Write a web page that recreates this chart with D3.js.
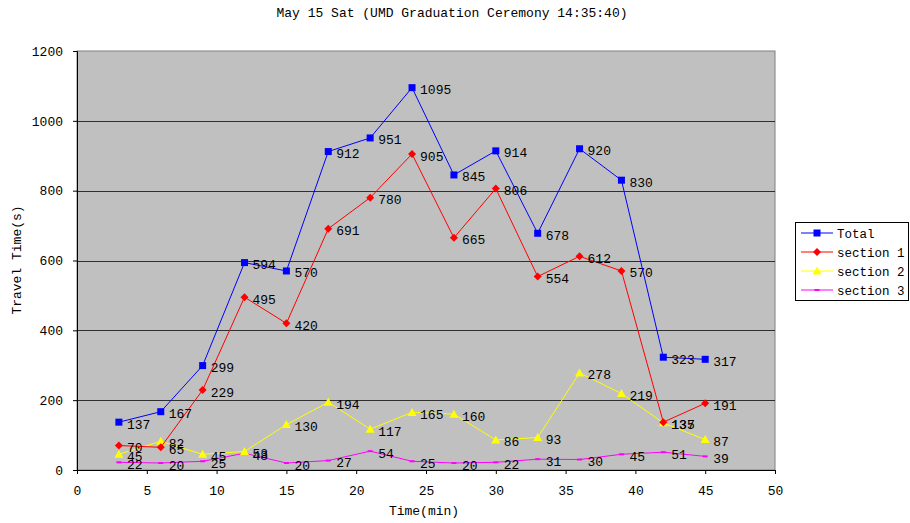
<!DOCTYPE html>
<html>
<head>
<meta charset="utf-8">
<script src="https://cdn.jsdelivr.net/npm/d3@7"></script>
<style>
body { margin: 0; background: #fff; }
text { font-family: "Liberation Mono", "DejaVu Sans Mono", monospace; }
</style>
</head>
<body>
<svg id="chart" width="910" height="523"></svg>
<script>
var minutes = [3, 6, 9, 12, 15, 18, 21, 24, 27, 30, 33, 36, 39, 42, 45];
var total = [137, 167, 299, 594, 570, 912, 951, 1095, 845, 914, 678, 920, 830, 323, 317];
var section1 = [70, 65, 229, 495, 420, 691, 780, 905, 665, 806, 554, 612, 570, 137, 191];
var section2 = [45, 82, 45, 53, 130, 194, 117, 165, 160, 86, 93, 278, 219, 135, 87];
var section3 = [22, 20, 25, 48, 20, 27, 54, 25, 20, 22, 31, 30, 45, 51, 39];
var xTicks = [0, 5, 10, 15, 20, 25, 30, 35, 40, 45, 50];
var yTicks = [0, 200, 400, 600, 800, 1000, 1200];

var series = [
	{ name: 'Total', values: total, color: '#0000ff', marker: 'square' },
	{ name: 'section 1', values: section1, color: '#ff0000', marker: 'diamond' },
	{ name: 'section 2', values: section2, color: '#ffff00', marker: 'triangle' },
	{ name: 'section 3', values: section3, color: '#ff00ff', marker: 'dash' }
];

var svg = d3.select("#chart");
var plotL = 77, plotR = 775, plotT = 51, plotB = 470;

var x = d3.scaleLinear().domain([0, 50]).range([plotL, plotR]);
var y = d3.scaleLinear().domain([0, 1200]).range([plotB, plotT]);

// plot background
svg.append("rect")
	.attr("x", plotL).attr("y", plotT)
	.attr("width", plotR - plotL).attr("height", plotB - plotT)
	.attr("fill", "#c0c0c0").attr("stroke", "#808080").attr("stroke-width", 1);

// gridlines
svg.append("g").selectAll("line").data(yTicks.slice(1, -1)).enter().append("line")
	.attr("x1", plotL).attr("x2", plotR)
	.attr("y1", function(d){ return Math.round(y(d)) + 0.5 })
	.attr("y2", function(d){ return Math.round(y(d)) + 0.5 })
	.attr("stroke", "#000").attr("stroke-width", 1).attr("opacity", 0.75);

// axes
var yAxis = svg.append("g").attr("transform", "translate(" + plotL + ",0)")
	.call(d3.axisLeft(y).tickValues(yTicks).tickFormat(d3.format("d")).tickSize(4).tickPadding(10));
var xAxis = svg.append("g").attr("transform", "translate(0," + plotB + ")")
	.call(d3.axisBottom(x).tickValues(xTicks).tickSize(4).tickPadding(12));
[xAxis, yAxis].forEach(function(a){
	a.select(".domain").attr("stroke", "#000");
	a.selectAll(".tick line").attr("stroke", "#000");
	a.selectAll("text").attr("font-size", 13).attr("fill", "#000")
		.style("font-family", "'Liberation Mono', monospace");
});

var line = d3.line()
	.x(function(d, i){ return x(minutes[i]) })
	.y(function(d){ return y(d) });

function drawMarker(g, type, color){
	if(type == 'square') {
		g.append("rect").attr("x", -3.5).attr("y", -3.5).attr("width", 7).attr("height", 7).attr("fill", color);
	} else if(type == 'diamond') {
		g.append("path").attr("d", "M0,-4L4,0L0,4L-4,0Z").attr("fill", color);
	} else if(type == 'triangle') {
		g.append("path").attr("d", "M0,-4.5L4.5,3.5L-4.5,3.5Z").attr("fill", color);
	} else {
		g.append("rect").attr("x", -2.5).attr("y", -1).attr("width", 5).attr("height", 2).attr("fill", color);
	}
}

series.slice().reverse().forEach(function(s){
	var g = svg.append("g");
	g.append("path").datum(s.values)
		.attr("d", line).attr("fill", "none")
		.attr("stroke", s.color).attr("stroke-width", 1);
	g.selectAll(".pt").data(s.values).enter().append("g")
		.attr("transform", function(d, i){ return "translate(" + x(minutes[i]) + "," + y(d) + ")" })
		.each(function(){ drawMarker(d3.select(this), s.marker, s.color) });
	g.selectAll(".lbl").data(s.values).enter().append("text")
		.attr("x", function(d, i){ return x(minutes[i]) + 8 })
		.attr("y", function(d){ return y(d) + 6.5 })
		.attr("font-size", 13).attr("fill", "#000")
		.text(function(d){ return d });
});

// title and axis labels
svg.append("text").attr("x", 452).attr("y", 17).attr("text-anchor", "middle")
	.attr("font-size", 13).text("May 15 Sat (UMD Graduation Ceremony 14:35:40)");
svg.append("text").attr("x", 424).attr("y", 515).attr("text-anchor", "middle")
	.attr("font-size", 13).text("Time(min)");
svg.append("text").attr("transform", "translate(21,260) rotate(-90)").attr("text-anchor", "middle")
	.attr("font-size", 13).text("Travel Time(s)");

// legend
var legend = svg.append("g").attr("transform", "translate(795,222)");
legend.append("rect").attr("x", 0.5).attr("y", 0.5).attr("width", 113).attr("height", 78)
	.attr("fill", "#fff").attr("stroke", "#000");
series.forEach(function(s, i){
	var row = legend.append("g").attr("transform", "translate(0," + (11 + i * 19) + ")");
	row.append("line").attr("x1", 6).attr("x2", 38).attr("y1", 0).attr("y2", 0)
		.attr("stroke", s.color).attr("stroke-width", i == 1 ? 2 : 1).attr("opacity", i == 1 ? 0.5 : 1);
	var m = row.append("g").attr("transform", "translate(22,0)");
	drawMarker(m, s.marker, s.color);
	row.append("text").attr("x", 42).attr("y", 5).attr("font-size", 12.5).text(s.name);
});
</script>
</body>
</html>
